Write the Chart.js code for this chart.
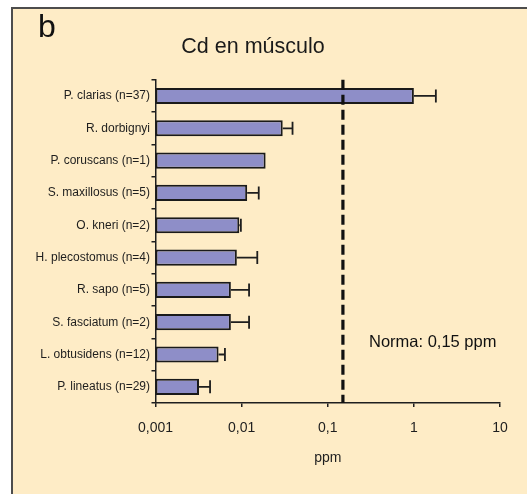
<!DOCTYPE html>
<html>
<head>
<meta charset="utf-8">
<script src="https://cdn.jsdelivr.net/npm/chart.js@4"></script>
<style>
  html, body { margin: 0; padding: 0; background: #fff; }
  #panel {
    position: absolute; left: 11px; top: 7px; right: 0; bottom: 0;
    background: #feecc6;
    border-left: 2px solid #4d4d4d;
    border-top: 2px solid #4d4d4d;
  }
  #chart { position: absolute; left: 0; top: 0; }
</style>
</head>
<body>
<div id="panel"></div>
<canvas id="chart" width="527" height="494"></canvas>
<script>
// Cd concentration in muscle, per species (ppm)
const species = [
    'P. clarias (n=37)',
    'R. dorbignyi',
    'P. coruscans (n=1)',
    'S. maxillosus (n=5)',
    'O. kneri (n=2)',
    'H. plecostomus (n=4)',
    'R. sapo (n=5)',
    'S. fasciatum (n=2)',
    'L. obtusidens (n=12)',
    'P. lineatus (n=29)'
];
const means = [1.0, 0.030, 0.019, 0.0116, 0.0094, 0.0088, 0.0075, 0.0075, 0.0054, 0.0032];
// upper end of the error bar (mean + sd); null where n=1
const errTop = [1.8, 0.039, null, 0.0158, 0.0098, 0.0152, 0.0122, 0.0122, 0.0064, 0.0043];

const tickValues = [0.001, 0.01, 0.1, 1, 10];
const tickLabels = ['0,001', '0,01', '0,1', '1', '10'];

const normValue = 0.15;
const normLabel = 'Norma: 0,15 ppm';

Chart.defaults.font.family = '"Liberation Sans", Arial, sans-serif';
Chart.defaults.color = '#1e1e1e';

const extras = {
    id: 'extras',
    afterDatasetsDraw(chart) {
        const ctx = chart.ctx;
        const xs = chart.scales.x;
        const area = chart.chartArea;
        const bars = chart.getDatasetMeta(0).data;

        // error bars, upper side only
        ctx.save();
        ctx.strokeStyle = '#1e1e1e';
        ctx.lineWidth = 1.8;
        errTop.forEach((e, i) => {
            if (e == null) return;
            const y = bars[i].y;
            const x0 = xs.getPixelForValue(means[i]);
            const x1 = xs.getPixelForValue(e);
            ctx.beginPath();
            ctx.moveTo(x0, y);
            ctx.lineTo(x1, y);
            ctx.moveTo(x1, y - 6.5);
            ctx.lineTo(x1, y + 6.5);
            ctx.stroke();
        });
        ctx.restore();

        // reference limit
        const xn = xs.getPixelForValue(normValue);
        ctx.save();
        ctx.strokeStyle = '#111';
        ctx.lineWidth = 3.2;
        ctx.setLineDash([10, 5]);
        ctx.beginPath();
        ctx.moveTo(xn, area.top);
        ctx.lineTo(xn, area.bottom);
        ctx.stroke();
        ctx.restore();

        // panel letter and limit note
        ctx.save();
        ctx.fillStyle = '#111';
        ctx.textBaseline = 'alphabetic';
        ctx.textAlign = 'left';
        ctx.font = '32px "Liberation Sans", Arial, sans-serif';
        ctx.fillText('b', 38, 37);
        ctx.font = '16.5px "Liberation Sans", Arial, sans-serif';
        ctx.fillText(normLabel, 369, 347);
        ctx.restore();
    }
};

new Chart(document.getElementById('chart'), {
    type: 'bar',
    data: {
        labels: species,
        datasets: [{
            data: means,
            backgroundColor: '#8e8ec8',
            borderColor: '#1a1a1a',
            borderWidth: 2,
            borderSkipped: false,
            barPercentage: 0.5,
            categoryPercentage: 1
        }]
    },
    options: {
        indexAxis: 'y',
        responsive: false,
        animation: false,
        layout: { padding: { left: 6, right: 27, top: 0, bottom: 0 } },
        plugins: {
            legend: { display: false },
            tooltip: { enabled: false },
            title: {
                display: true,
                text: 'Cd en músculo',
                color: '#1a1a1a',
                font: { size: 21.5, weight: 'normal' },
                padding: { top: 34, bottom: 20 }
            }
        },
        scales: {
            x: {
                type: 'logarithmic',
                min: 0.001,
                max: 10,
                afterBuildTicks: s => { s.ticks = tickValues.map(v => ({ value: v })); },
                afterFit: s => { s.height = 91; },
                ticks: {
                    padding: 13,
                    font: { size: 14 },
                    autoSkip: false,
                    maxRotation: 0,
                    callback: (v, i) => tickLabels[i]
                },
                grid: {
                    drawOnChartArea: false,
                    tickLength: 4,
                    color: '#1e1e1e',
                    lineWidth: 1.5
                },
                border: { color: '#1e1e1e', width: 1.5 },
                title: {
                    display: true,
                    text: 'ppm',
                    font: { size: 14 },
                    padding: { top: 0, bottom: 27 }
                }
            },
            y: {
                afterFit: s => { s.width = 149.5; },
                ticks: { padding: 1.5, font: { size: 12 }, autoSkip: false },
                grid: {
                    drawOnChartArea: false,
                    tickLength: 4,
                    color: '#1e1e1e',
                    lineWidth: 1.5
                },
                border: { color: '#1e1e1e', width: 1.5 }
            }
        }
    },
    plugins: [extras]
});
</script>
</body>
</html>
